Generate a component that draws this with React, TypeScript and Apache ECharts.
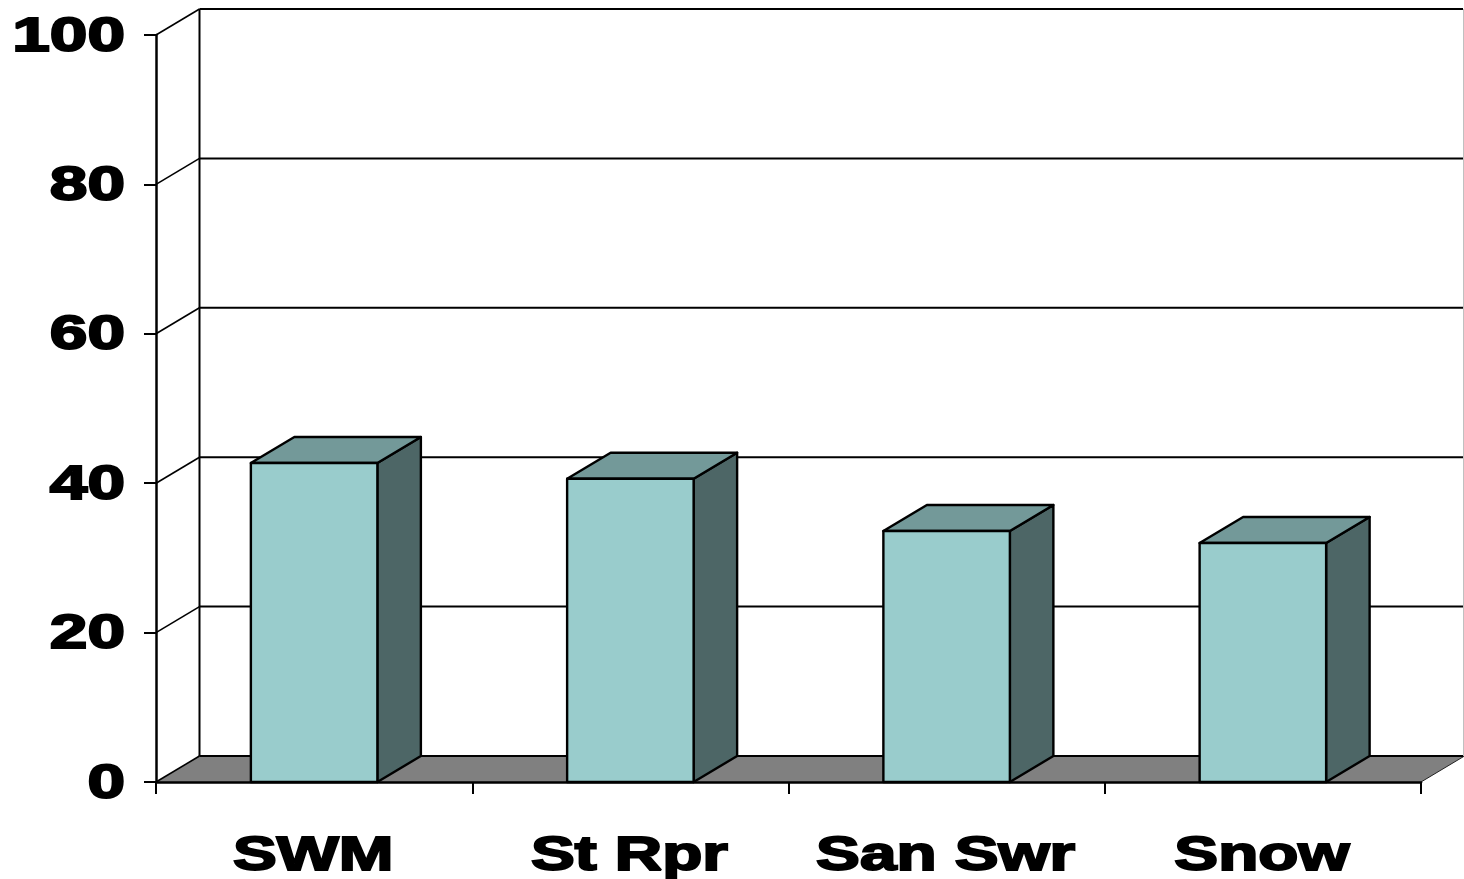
import React, { useEffect, useRef } from "react";
import * as echarts from "echarts";

const categories = ["SWM", "St Rpr", "San Swr", "Snow"];
const values = [42.7, 40.6, 33.6, 32.0];
const yTicks = [0, 20, 40, 60, 80, 100];

const DX = 43.5;
const DY = -26;
const BAR_FRACTION = 0.4;
const FRONT = "#99CCCC";
const TOP = "#739999";
const SIDE = "#4D6666";
const FLOOR = "#808080";
const INK = "#000000";
const FONT = "'Liberation Sans', Arial, sans-serif";
const LABEL_SIZE = 49;
const LABEL_STRETCH_Y = 1.38;
const LABEL_STRETCH_X = 1.34;
const labelStyle = {
  fill: INK,
  font: `bold ${LABEL_SIZE}px ${FONT}`,
  stroke: INK,
  lineWidth: 2,
};

export default function App() {
  const ref = useRef<HTMLDivElement>(null);
  useEffect(() => {
    const chart = echarts.init(ref.current!, null, { renderer: "svg" });
    const lineStyle = { stroke: INK, lineWidth: 2 };
    const slantStyle = { stroke: INK, lineWidth: 1.6 };
    chart.setOption({
      animation: false,
      backgroundColor: "#fff",
      grid: { left: 156, right: 43, top: 35, bottom: 97 },
      xAxis: {
        type: "category",
        data: categories,
        z: 4,
        axisLine: { onZero: false, lineStyle: { color: INK, width: 2.5 } },
        axisTick: { show: true, length: 12, lineStyle: { color: INK, width: 2 } },
        axisLabel: { show: false },
      },
      yAxis: {
        type: "value",
        min: 0,
        max: 100,
        interval: 20,
        z: 4,
        splitLine: { show: false },
        axisLine: { show: true, lineStyle: { color: INK, width: 2.5 } },
        axisTick: { show: true, length: 12, lineStyle: { color: INK, width: 2 } },
        axisLabel: { show: false },
      },
      series: [
        {
          type: "custom",
          coordinateSystem: "cartesian2d",
          clip: false,
          silent: true,
          z: 1,
          data: yTicks.map((t) => [0, t]),
          encode: { y: 1 },
          renderItem: (params: any, api: any) => {
            const cs = params.coordSys;
            const tick = api.value(1);
            const y = api.coord([0, tick])[1];
            const xL = cs.x;
            const xR = cs.x + cs.width;
            const children: any[] = [];
            if (tick === 0) {
              children.push({
                type: "polygon",
                shape: { points: [[xL, y], [xL + DX, y + DY], [xR + DX, y + DY], [xR, y]] },
                style: { fill: FLOOR, stroke: null },
              });
              children.push({
                type: "line",
                shape: { x1: xR, y1: y, x2: xR + DX, y2: y + DY },
                style: { stroke: "#222", lineWidth: 1 },
              });
            }
            if (tick === 100) {
              children.push({
                type: "line",
                shape: { x1: xL + DX, y1: api.coord([0, 0])[1] + DY, x2: xL + DX, y2: y + DY },
                style: lineStyle,
              });
              children.push({
                type: "line",
                shape: { x1: xR + DX - 1, y1: api.coord([0, 0])[1] + DY, x2: xR + DX - 1, y2: y + DY },
                style: { stroke: "#C0C0C0", lineWidth: 1 },
              });
            }
            children.push({
              type: "line",
              shape: { x1: xL, y1: y, x2: xL + DX, y2: y + DY },
              style: slantStyle,
            });
            children.push({
              type: "line",
              shape: { x1: xL + DX, y1: y + DY, x2: xR + DX - 1.5, y2: y + DY },
              style: lineStyle,
            });
            return { type: "group", children };
          },
        },
        {
          type: "custom",
          coordinateSystem: "cartesian2d",
          clip: false,
          silent: true,
          z: 5,
          data: values.map((v, i) => [i, v]),
          encode: { x: 0, y: 1 },
          renderItem: (_params: any, api: any) => {
            const i = api.value(0);
            const [cx, yTop] = api.coord([i, api.value(1)]);
            const yBase = api.coord([i, 0])[1];
            const w = api.size([1, 0])[0] * BAR_FRACTION;
            const l = cx - w / 2;
            const r = cx + w / 2;
            const stroke = { stroke: INK, lineWidth: 2.4, lineJoin: "round" };
            return {
              type: "group",
              children: [
                {
                  type: "polygon",
                  shape: { points: [[r, yTop], [r + DX, yTop + DY], [r + DX, yBase + DY], [r, yBase]] },
                  style: { fill: SIDE, ...stroke },
                },
                {
                  type: "polygon",
                  shape: { points: [[l, yTop], [l + DX, yTop + DY], [r + DX, yTop + DY], [r, yTop]] },
                  style: { fill: TOP, ...stroke },
                },
                {
                  type: "polygon",
                  shape: { points: [[l, yTop], [r, yTop], [r, yBase], [l, yBase]] },
                  style: { fill: FRONT, ...stroke },
                },
              ],
            };
          },
        },
        {
          type: "custom",
          coordinateSystem: "cartesian2d",
          clip: false,
          silent: true,
          z: 6,
          data: yTicks.map((t) => [0, t]),
          encode: { y: 1 },
          renderItem: (params: any, api: any) => {
            const tick = api.value(1);
            return {
              type: "text",
              x: params.coordSys.x - 31,
              y: api.coord([0, tick])[1] - 1,
              scaleX: LABEL_STRETCH_Y,
              style: { ...labelStyle, text: String(tick), textAlign: "right", textVerticalAlign: "middle" },
            };
          },
        },
        {
          type: "custom",
          coordinateSystem: "cartesian2d",
          clip: false,
          silent: true,
          z: 6,
          data: categories.map((_c, i) => [i, 0]),
          encode: { x: 0, y: 1 },
          renderItem: (_params: any, api: any) => {
            const i = api.value(0);
            const [cx, y0] = api.coord([i, 0]);
            return {
              type: "text",
              x: cx - 1,
              y: y0 + 71,
              scaleX: LABEL_STRETCH_X,
              style: { ...labelStyle, text: categories[i], textAlign: "center", textVerticalAlign: "middle" },
            };
          },
        },
      ],
    });
    return () => chart.dispose();
  }, []);
  return <div ref={ref} style={{ position: "absolute", left: 0, top: 0, width: 1464, height: 879 }} />;
}
